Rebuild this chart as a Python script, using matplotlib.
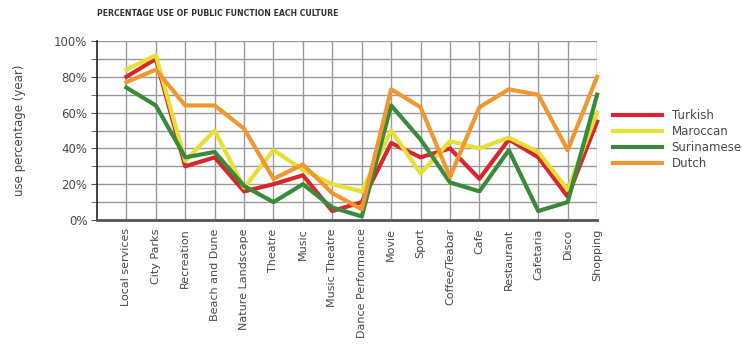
import numpy as np
import matplotlib.pyplot as plt
from matplotlib.ticker import MultipleLocator, FuncFormatter

# Categories (public functions)
categories = ["Local services", "City Parks", "Recreation", "Beach and Dune",
              "Nature Landscape", "Theatre", "Music", "Music Theatre",
              "Dance Performance", "Movie", "Sport", "Coffee/Teabar", "Cafe",
              "Restaurant", "Cafetaria", "Disco", "Shopping"]

# Use percentage per culture
turkish =    [80, 90, 30, 35, 16, 20, 25, 5, 10, 43, 35, 40, 23, 45, 35, 13, 55]
maroccan =   [84, 92, 33, 50, 18, 39, 28, 20, 16, 50, 26, 44, 40, 46, 38, 17, 60]
surinamese = [74, 64, 35, 38, 19, 10, 20, 7, 2, 64, 45, 21, 16, 39, 5, 10, 70]
dutch =      [77, 84, 64, 64, 51, 23, 31, 15, 6, 73, 63, 24, 63, 73, 70, 39, 80]

series = [("Turkish", turkish, "#d8262c"),
          ("Maroccan", maroccan, "#e6df36"),
          ("Surinamese", surinamese, "#3a8a3a"),
          ("Dutch", dutch, "#f0982f")]

text_color = "#4a4a4a"

fig = plt.figure(figsize=(7.42, 3.52), dpi=100)
ax = fig.add_axes([0.1307, 0.375, 0.674, 0.5085])

x = np.arange(1, len(categories) + 1)
for name, vals, col in series:
    ax.plot(x, vals, color=col, linewidth=3, label=name, clip_on=False)

ax.set_xlim(0, len(categories))
ax.set_ylim(0, 100)
ax.set_xticks(x)
ax.set_xticklabels(categories, rotation=90, fontsize=8, color=text_color)
ax.yaxis.set_major_locator(MultipleLocator(20))
ax.yaxis.set_minor_locator(MultipleLocator(10))
ax.yaxis.set_major_formatter(FuncFormatter(lambda v, p: f"{int(v)}%"))
ax.tick_params(axis="y", which="both", length=4, color="#555555", labelsize=8.5,
               labelcolor=text_color, pad=3)
ax.tick_params(axis="x", length=0, pad=6)

ax.grid(True, which="both", color="#9a9a9a", linewidth=1)
ax.set_axisbelow(True)
for side in ["top", "right"]:
    ax.spines[side].set_visible(False)
ax.spines["left"].set_color("#222222")
ax.spines["left"].set_linewidth(1.2)
ax.spines["bottom"].set_color("#555555")
ax.spines["bottom"].set_linewidth(2)

ax.set_ylabel("use percentage (year)", fontsize=8.5, color=text_color, labelpad=20)

fig.text(0.1307, 0.955, "PERCENTAGE USE OF PUBLIC FUNCTION EACH CULTURE",
         fontsize=6.2, fontweight="bold", color="#333333", fontstretch="condensed")

ax.legend(loc="upper left", bbox_to_anchor=(1.01, 0.68), frameon=False,
          fontsize=8.5, handlelength=4.2, handletextpad=0.8, labelspacing=0.25,
          labelcolor=text_color)

fig.savefig("out.png", dpi=100)
